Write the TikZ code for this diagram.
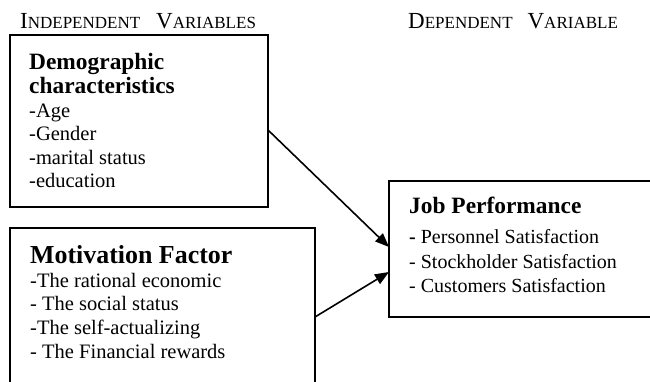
\documentclass[tikz,border=0pt]{standalone}
\usepackage{fontspec}
\setmainfont{Liberation Serif}
\usetikzlibrary{arrows.meta}

\newcommand{\smcap}[2]{{\fontsize{23}{26}\selectfont #1}{\fontsize{17}{20}\selectfont #2}}
\newcommand{\boxtitle}{\bfseries\fontsize{23.4}{24}\selectfont}

\tikzset{
  varbox/.style={draw, line width=1.6pt, rectangle, anchor=north west, inner sep=0pt, outer sep=0pt},
  boxtext/.style={anchor=north west, inner sep=0pt, align=left, font=\fontsize{20.5}{23.6}\selectfont},
  heading/.style={anchor=base west, inner sep=0pt},
  link/.style={line width=1.6pt, -{Triangle[length=14pt,width=11pt]}}
}

\begin{document}
\begin{tikzpicture}[x=1pt,y=-1pt]
    \useasboundingbox (0,0) rectangle (650,382);
    \clip (0,0) rectangle (650,382);

    \node[heading] (indep) at (20,29) {\smcap{I}{NDEPENDENT}\hspace{16pt}\smcap{V}{ARIABLES}};
    \node[heading] (dep) at (408,29) {\smcap{D}{EPENDENT}\hspace{15pt}\smcap{V}{ARIABLE}};

    \node[varbox, minimum width=258pt, minimum height=172pt] (demo) at (10,35) {};
    \node[varbox, minimum width=305pt, minimum height=180pt] (motiv) at (10,228) {};
    \node[varbox, minimum width=280pt, minimum height=136pt] (job) at (389,181) {};

    \node[boxtext] (demotext) at (29,53.5) {{\boxtitle Demographic}\\{\boxtitle characteristics}\\-Age\\-Gender\\-marital status\\-education};
    \node[boxtext] (motivtext) at (30,245.5) {{\bfseries\fontsize{25.9}{26}\selectfont Motivation Factor}\\-The rational economic\\- The social status\\-The self-actualizing\\- The Financial rewards};
    \node[boxtext, font=\fontsize{20}{24.5}\selectfont] (jobtext) at (409,197) {{\boxtitle Job Performance}\\[5.5pt]\textbf{-} Personnel Satisfaction\\- Stockholder Satisfaction\\- Customers Satisfaction};

    \draw[link] ([yshift=-9pt]demo.east) -- ([yshift=2pt]job.west);
    \draw[link] ([yshift=-89pt]motiv.north east) -- ([yshift=-91pt]job.north west);
\end{tikzpicture}
\end{document}
